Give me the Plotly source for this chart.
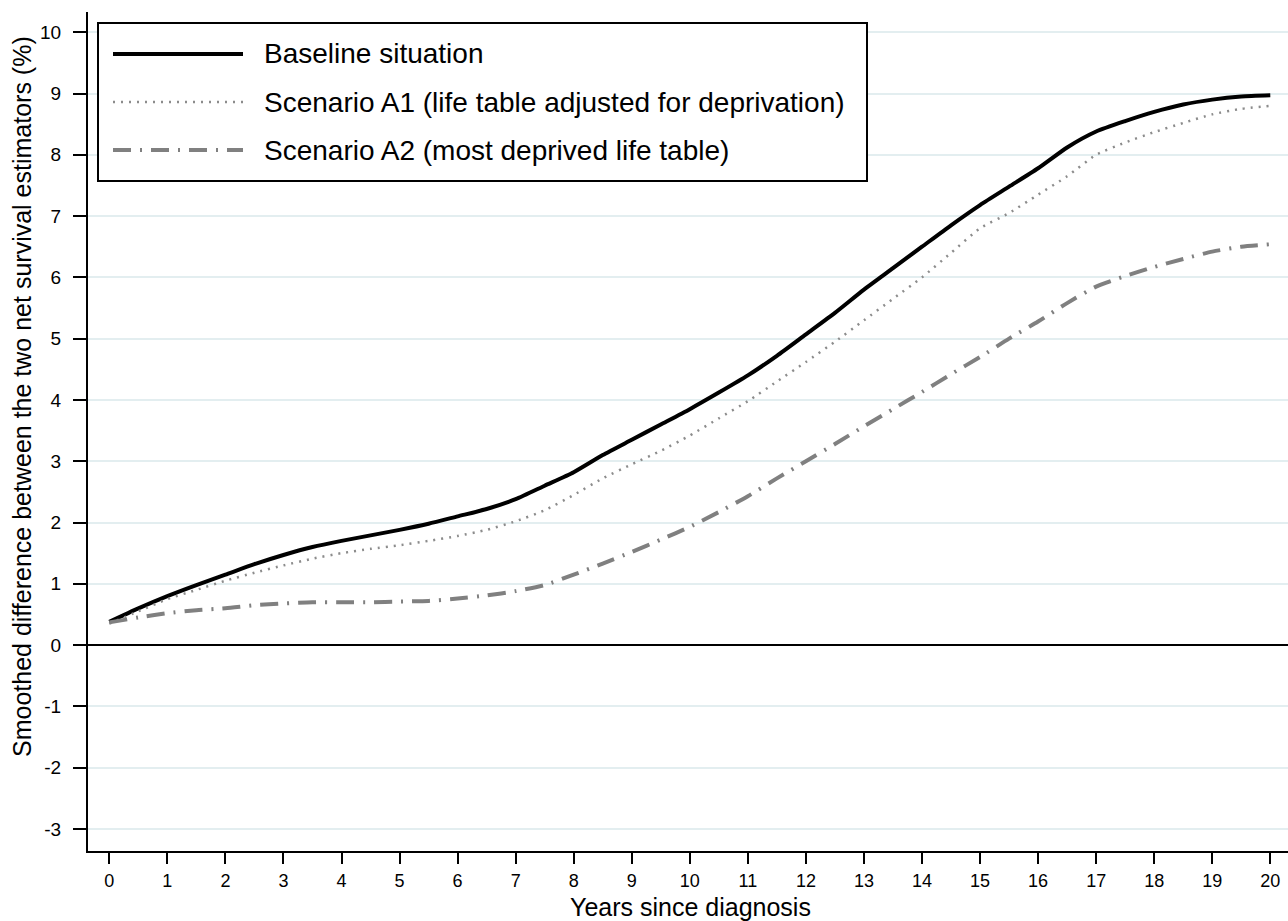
import plotly.graph_objects as go

years = [0, 0.5, 1, 1.5, 2, 2.5, 3, 3.5, 4, 4.5, 5, 5.5, 6, 6.5, 7, 7.5, 8, 8.5, 9, 9.5,
         10, 10.5, 11, 11.5, 12, 12.5, 13, 13.5, 14, 14.5, 15, 15.5, 16, 16.5, 17, 17.5,
         18, 18.5, 19, 19.5, 20]

baseline = [0.38, 0.6, 0.8, 0.98, 1.15, 1.32, 1.47, 1.6, 1.7, 1.79, 1.88, 1.98, 2.1, 2.22,
            2.38, 2.6, 2.82, 3.1, 3.35, 3.6, 3.85, 4.12, 4.4, 4.72, 5.07, 5.42, 5.8, 6.15,
            6.5, 6.85, 7.18, 7.48, 7.78, 8.12, 8.38, 8.55, 8.7, 8.82, 8.9, 8.95, 8.97]

scenario_a1 = [0.35, 0.55, 0.75, 0.9, 1.05, 1.18, 1.3, 1.41, 1.5, 1.57, 1.63, 1.7, 1.78,
               1.88, 2.02, 2.2, 2.45, 2.72, 2.95, 3.17, 3.42, 3.7, 3.98, 4.3, 4.62, 4.95,
               5.3, 5.65, 6.0, 6.4, 6.8, 7.05, 7.35, 7.65, 8.0, 8.2, 8.37, 8.52, 8.66, 8.75, 8.8]

scenario_a2 = [0.37, 0.45, 0.52, 0.57, 0.6, 0.65, 0.68, 0.7, 0.7, 0.7, 0.71, 0.72, 0.76,
               0.81, 0.88, 0.98, 1.15, 1.33, 1.52, 1.72, 1.93, 2.17, 2.43, 2.72, 3.0, 3.28,
               3.57, 3.85, 4.13, 4.42, 4.7, 5.0, 5.28, 5.58, 5.85, 6.02, 6.17, 6.3, 6.42, 6.5, 6.54]

series_names = ["Baseline situation",
                "Scenario A1 (life table adjusted for deprivation)",
                "Scenario A2 (most deprived life table)"]

x_title = "Years since diagnosis"
y_title = "Smoothed difference between the two net survival estimators (%)"

x_ticks = list(range(0, 21))
y_ticks = list(range(-3, 11))

FONT = "Arial, Liberation Sans, sans-serif"
styles = [
    dict(color="black", width=4, dash="solid"),
    dict(color="#8c8c8c", width=2.5, dash="2px,6px"),
    dict(color="#808080", width=4, dash="18px,9px,2px,9px"),
]

fig = go.Figure()
for name, ys, st in zip(series_names, [baseline, scenario_a1, scenario_a2], styles):
    fig.add_trace(go.Scatter(x=years, y=ys, mode="lines", name=name,
                             line=dict(shape="spline", smoothing=0.6, **st),
                             showlegend=False))

W, H = 1288, 921
L, R, T, B = 88, 0, 12, 70
pw, ph = W - L - R, H - T - B


def px(xp):
    return (xp - L) / pw


def py(yp):
    return (H - B - yp) / ph


shapes = [dict(type="rect", xref="paper", yref="paper",
               x0=px(98), x1=px(867), y0=py(181), y1=py(23),
               line=dict(color="black", width=2), fillcolor="white", layer="above")]
annotations = []
rows = [54, 102, 150]
for name, st, ry in zip(series_names, styles, rows):
    shapes.append(dict(type="line", xref="paper", yref="paper",
                       x0=px(113), x1=px(243), y0=py(ry), y1=py(ry),
                       line=dict(color=st["color"], width=st["width"], dash=st["dash"]),
                       layer="above"))
    annotations.append(dict(xref="paper", yref="paper", x=px(262), y=py(ry),
                            xanchor="left", yanchor="middle", showarrow=False,
                            text=name, font=dict(family=FONT, size=28, color="black")))

# axis titles
annotations.append(dict(xref="paper", yref="paper", x=px(691), y=py(922),
                        xanchor="center", yanchor="bottom", showarrow=False,
                        text=x_title, font=dict(family=FONT, size=25, color="black"),
                        borderpad=0))
annotations.append(dict(xref="paper", yref="paper", x=px(22), y=py(397),
                        xanchor="center", yanchor="middle", showarrow=False,
                        textangle=-90,
                        text=y_title, font=dict(family=FONT, size=25, color="black"),
                        borderpad=0))

fig.update_layout(
    width=W, height=H,
    margin=dict(l=L, r=R, t=T, b=B),
    paper_bgcolor="white", plot_bgcolor="white",
    font=dict(family=FONT, color="black"),
    shapes=shapes, annotations=annotations,
    xaxis=dict(range=[-0.367, 20.305], tickvals=x_ticks,
               ticktext=[str(v) for v in x_ticks],
               showgrid=False, zeroline=False,
               showline=True, linecolor="black", linewidth=2,
               ticks="outside", ticklen=11, tickwidth=2, tickcolor="black",
               tickfont=dict(size=18, family=FONT, color="black"),
               ticklabelstandoff=1),
    yaxis=dict(range=[-3.36, 10.33], tickvals=y_ticks,
               ticktext=[str(v) for v in y_ticks],
               showgrid=True, gridcolor="#e3eef0", gridwidth=2,
               zeroline=True, zerolinecolor="black", zerolinewidth=2,
               showline=True, linecolor="black", linewidth=2,
               ticks="outside", ticklen=13, tickwidth=2, tickcolor="black",
               tickfont=dict(size=19, family=FONT, color="black"),
               ticklabelstandoff=8),
)

fig.write_html("out.html")
